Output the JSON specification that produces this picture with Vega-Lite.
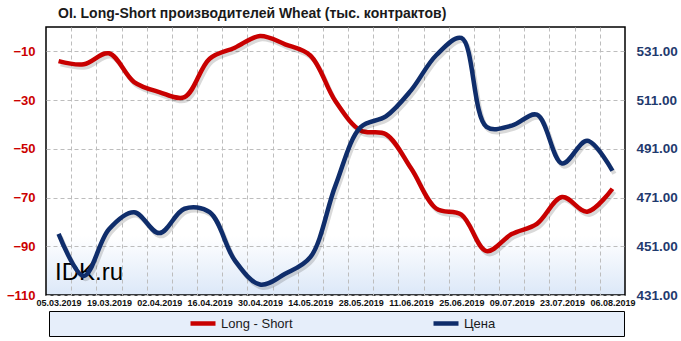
{
  "$schema": "https://vega.github.io/schema/vega-lite/v6.json",
  "width": 579,
  "height": 268,
  "autosize": {"type": "none"},
  "padding": {"left": 46, "top": 27, "right": 56, "bottom": 46},
  "background": "white",
  "config": {
    "font": "Liberation Sans",
    "view": {
      "stroke": "black",
      "strokeWidth": 1.5,
      "fill": {
        "gradient": "linear",
        "x1": 0, "y1": 0, "x2": 0, "y2": 1,
        "stops": [
          {"offset": 0, "color": "#ffffff"},
          {"offset": 0.78, "color": "#ffffff"},
          {"offset": 1, "color": "#dce8f8"}
        ]
      }
    },
    "axis": {"ticks": false, "domain": false, "gridColor": "#bdbdbd", "gridDash": [4, 3], "gridWidth": 1, "title": null},
    "legend": {"fillColor": "#e6eefa", "strokeColor": "#000000", "strokeWidth": 1, "padding": 5}
  },
  "title": {
    "text": "OI. Long-Short производителей Wheat (тыс. контрактов)",
    "anchor": "start",
    "frame": "group",
    "dx": 12,
    "offset": 6,
    "fontSize": 14,
    "fontWeight": "bold",
    "color": "#1a1a1a"
  },
  "datasets": {
    "ls": [
      {"date": "2019-03-05", "value": -14.0},
      {"date": "2019-03-12", "value": -15.3},
      {"date": "2019-03-19", "value": -10.8},
      {"date": "2019-03-26", "value": -22.6},
      {"date": "2019-04-02", "value": -26.7},
      {"date": "2019-04-09", "value": -28.8},
      {"date": "2019-04-16", "value": -13.0},
      {"date": "2019-04-23", "value": -8.5},
      {"date": "2019-04-30", "value": -3.7},
      {"date": "2019-05-07", "value": -7.1},
      {"date": "2019-05-14", "value": -11.7},
      {"date": "2019-05-21", "value": -30.5},
      {"date": "2019-05-28", "value": -42.5},
      {"date": "2019-06-04", "value": -44.0},
      {"date": "2019-06-11", "value": -58.0},
      {"date": "2019-06-18", "value": -74.5},
      {"date": "2019-06-25", "value": -77.0},
      {"date": "2019-07-02", "value": -92.0},
      {"date": "2019-07-09", "value": -85.0},
      {"date": "2019-07-16", "value": -80.8},
      {"date": "2019-07-23", "value": -69.8},
      {"date": "2019-07-30", "value": -75.8},
      {"date": "2019-08-06", "value": -66.4}
    ],
    "price": [
      {"date": "2019-03-05", "value": 456.1},
      {"date": "2019-03-12", "value": 438.8},
      {"date": "2019-03-19", "value": 458.0},
      {"date": "2019-03-26", "value": 465.0},
      {"date": "2019-04-02", "value": 456.4},
      {"date": "2019-04-09", "value": 466.4},
      {"date": "2019-04-16", "value": 465.0},
      {"date": "2019-04-23", "value": 445.2},
      {"date": "2019-04-30", "value": 435.3},
      {"date": "2019-05-07", "value": 439.7},
      {"date": "2019-05-14", "value": 446.5},
      {"date": "2019-05-21", "value": 476.0},
      {"date": "2019-05-28", "value": 499.9},
      {"date": "2019-06-04", "value": 504.3},
      {"date": "2019-06-11", "value": 515.0},
      {"date": "2019-06-18", "value": 529.4},
      {"date": "2019-06-25", "value": 536.5},
      {"date": "2019-07-02", "value": 500.0},
      {"date": "2019-07-09", "value": 500.5},
      {"date": "2019-07-16", "value": 505.0},
      {"date": "2019-07-23", "value": 485.0},
      {"date": "2019-07-30", "value": 494.3},
      {"date": "2019-08-06", "value": 482.0}
    ],
    "watermark": [{"label": "IDK.ru", "date": "2019-03-04", "value": -104}]
  },
  "layer": [
    {
      "data": {"name": "ls"},
      "encoding": {
        "x": {
          "field": "date",
          "type": "temporal",
          "scale": {
            "type": "utc",
            "domain": [
              {"year": 2019, "month": 3, "date": 1, "hours": 12, "utc": true},
              {"year": 2019, "month": 8, "date": 9, "hours": 12, "utc": true}
            ]
          },
          "axis": {
            "orient": "bottom",
            "grid": false,
            "format": "%d.%m.%Y",
            "labelFontSize": 9,
            "labelFontWeight": "bold",
            "labelColor": "#111111",
            "labelPadding": 3,
            "labelOverlap": false,
            "labelFlush": false,
            "values": [
              {"year": 2019, "month": 3, "date": 5, "utc": true},
              {"year": 2019, "month": 3, "date": 19, "utc": true},
              {"year": 2019, "month": 4, "date": 2, "utc": true},
              {"year": 2019, "month": 4, "date": 16, "utc": true},
              {"year": 2019, "month": 4, "date": 30, "utc": true},
              {"year": 2019, "month": 5, "date": 14, "utc": true},
              {"year": 2019, "month": 5, "date": 28, "utc": true},
              {"year": 2019, "month": 6, "date": 11, "utc": true},
              {"year": 2019, "month": 6, "date": 25, "utc": true},
              {"year": 2019, "month": 7, "date": 9, "utc": true},
              {"year": 2019, "month": 7, "date": 23, "utc": true},
              {"year": 2019, "month": 8, "date": 6, "utc": true}
            ]
          }
        },
        "y": {
          "field": "value",
          "type": "quantitative",
          "scale": {"domain": [-110, 0], "nice": false, "zero": false},
          "axis": {
            "orient": "left",
            "values": [-110, -90, -70, -50, -30, -10],
            "grid": true,
            "labelColor": "#cc0000",
            "labelFontSize": 13,
            "labelFontWeight": "bold",
            "labelPadding": 11
          }
        }
      },
      "layer": [
        {
          "mark": {"type": "line", "interpolate": "catmull-rom", "color": "#000000", "opacity": 0.15, "strokeWidth": 4.5, "xOffset": 2, "yOffset": 3}
        },
        {
          "mark": {"type": "line", "interpolate": "catmull-rom", "strokeWidth": 4.5},
          "encoding": {
            "color": {
              "datum": "Long - Short",
              "scale": {"domain": ["\u2800", "Long - Short", "Цена"], "range": ["rgba(0,0,0,0)", "#c80000", "#0f2d6b"]},
              "legend": {
                "orient": "none",
                "legendX": 3,
                "legendY": 284,
                "direction": "horizontal",
                "title": null,
                "symbolType": "stroke",
                "symbolStrokeWidth": 4.5,
                "symbolSize": 625,
                "clipHeight": 15,
                "labelFontSize": 13,
                "labelColor": "#1a1a1a",
                "labelOffset": 3,
                "labelLimit": 400,
                "columnPadding": 91,
                "padding": 5,
                "fillColor": "#e6eefa",
                "strokeColor": "#000000",
                "labelExpr": "datum.label == 'Long - Short' ? datum.label + '  \u2800\u2800\u2800\u2800' : datum.label == 'Цена' ? datum.label + ' \u2800\u2800\u2800\u2800\u2800\u2800\u2800\u2800\u2800\u2800\u2800\u2800' : datum.label"
              }
            }
          }
        },
        {
          "data": {"name": "watermark"},
          "mark": {"type": "text", "align": "left", "baseline": "alphabetic", "fontSize": 24, "color": "#000000"},
          "encoding": {
            "text": {"field": "label", "type": "nominal"}
          }
        }
      ]
    },
    {
      "data": {"name": "price"},
      "encoding": {
        "x": {
          "field": "date",
          "type": "temporal",
          "scale": {
            "type": "utc",
            "domain": [
              {"year": 2019, "month": 3, "date": 1, "hours": 12, "utc": true},
              {"year": 2019, "month": 8, "date": 9, "hours": 12, "utc": true}
            ]
          },
          "axis": {
            "orient": "bottom",
            "grid": true,
            "labels": false,
            "values": [
              {"year": 2019, "month": 3, "date": 8, "hours": 12, "utc": true},
              {"year": 2019, "month": 3, "date": 15, "hours": 12, "utc": true},
              {"year": 2019, "month": 3, "date": 22, "hours": 12, "utc": true},
              {"year": 2019, "month": 3, "date": 29, "hours": 12, "utc": true},
              {"year": 2019, "month": 4, "date": 5, "hours": 12, "utc": true},
              {"year": 2019, "month": 4, "date": 12, "hours": 12, "utc": true},
              {"year": 2019, "month": 4, "date": 19, "hours": 12, "utc": true},
              {"year": 2019, "month": 4, "date": 26, "hours": 12, "utc": true},
              {"year": 2019, "month": 5, "date": 3, "hours": 12, "utc": true},
              {"year": 2019, "month": 5, "date": 10, "hours": 12, "utc": true},
              {"year": 2019, "month": 5, "date": 17, "hours": 12, "utc": true},
              {"year": 2019, "month": 5, "date": 24, "hours": 12, "utc": true},
              {"year": 2019, "month": 5, "date": 31, "hours": 12, "utc": true},
              {"year": 2019, "month": 6, "date": 7, "hours": 12, "utc": true},
              {"year": 2019, "month": 6, "date": 14, "hours": 12, "utc": true},
              {"year": 2019, "month": 6, "date": 21, "hours": 12, "utc": true},
              {"year": 2019, "month": 6, "date": 28, "hours": 12, "utc": true},
              {"year": 2019, "month": 7, "date": 5, "hours": 12, "utc": true},
              {"year": 2019, "month": 7, "date": 12, "hours": 12, "utc": true},
              {"year": 2019, "month": 7, "date": 19, "hours": 12, "utc": true},
              {"year": 2019, "month": 7, "date": 26, "hours": 12, "utc": true},
              {"year": 2019, "month": 8, "date": 2, "hours": 12, "utc": true}
            ]
          }
        },
        "y": {
          "field": "value",
          "type": "quantitative",
          "scale": {"domain": [431, 541], "nice": false, "zero": false},
          "axis": {
            "orient": "right",
            "values": [431, 451, 471, 491, 511, 531],
            "format": ".2f",
            "grid": false,
            "labelColor": "#1f3a6e",
            "labelFontSize": 13.5,
            "labelFontWeight": "bold",
            "labelPadding": 11
          }
        }
      },
      "layer": [
        {
          "mark": {"type": "line", "interpolate": "catmull-rom", "color": "#000000", "opacity": 0.15, "strokeWidth": 4.5, "xOffset": 2, "yOffset": 3}
        },
        {
          "mark": {"type": "line", "interpolate": "catmull-rom", "strokeWidth": 4.5},
          "encoding": {"color": {"datum": "Цена"}}
        }
      ]
    }
  ],
  "resolve": {"scale": {"y": "independent"}, "axis": {"x": "independent"}}
}
